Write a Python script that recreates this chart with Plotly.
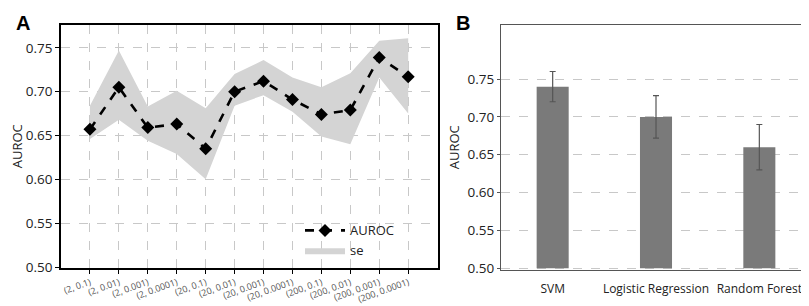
import plotly.graph_objects as go

# Panel A data
params = ["(2, 0.1)", "(2, 0.01)", "(2, 0.001)", "(2, 0.0001)", "(20, 0.1)", "(20, 0.01)",
          "(20, 0.001)", "(20, 0.0001)", "(200, 0.1)", "(200, 0.01)", "(200, 0.001)", "(200, 0.0001)"]
auroc = [0.657, 0.705, 0.659, 0.663, 0.635, 0.700, 0.712, 0.691, 0.674, 0.679, 0.739, 0.717]
se_upper = [0.684, 0.747, 0.683, 0.701, 0.681, 0.720, 0.736, 0.716, 0.705, 0.721, 0.758, 0.761]
se_lower = [0.646, 0.668, 0.644, 0.629, 0.600, 0.684, 0.696, 0.677, 0.649, 0.640, 0.716, 0.675]

# Panel B data
models = ["SVM", "Logistic Regression", "Random Forest"]
model_auroc = [0.740, 0.700, 0.660]
model_err = [0.020, 0.028, 0.030]
bar_base = 0.5

y_ticks = [0.50, 0.55, 0.60, 0.65, 0.70, 0.75]
y_ticklabels = ["0.50", "0.55", "0.60", "0.65", "0.70", "0.75"]

FONT = "Open Sans"
W, H = 809, 306

fig = go.Figure()

idx = list(range(len(params)))
# se band
fig.add_trace(go.Scatter(
    x=idx + idx[::-1], y=se_upper + se_lower[::-1],
    fill="toself", fillcolor="#d4d4d4", line=dict(color="rgba(0,0,0,0)", width=0),
    name="se", xaxis="x", yaxis="y", hoverinfo="skip"))
# AUROC line
fig.add_trace(go.Scatter(
    x=idx, y=auroc, mode="lines+markers", name="AUROC",
    line=dict(color="black", width=2.6, dash="dash"),
    marker=dict(symbol="diamond", size=10, color="black"),
    xaxis="x", yaxis="y"))

# Panel B bars
fig.add_trace(go.Bar(
    x=models, y=[v - bar_base for v in model_auroc], base=bar_base,
    width=0.31, marker=dict(color="#7a7a7a", line=dict(width=0)),
    error_y=dict(type="data", array=model_err, color="#555555", thickness=1.2, width=3),
    showlegend=False, xaxis="x2", yaxis="y2"))

grid = dict(showgrid=True, gridcolor="#c8c8c8", griddash="dash", gridwidth=1)

fig.update_layout(
    width=W, height=H,
    margin=dict(l=0, r=0, t=0, b=0),
    paper_bgcolor="white", plot_bgcolor="white",
    font=dict(family=FONT, color="#222222", size=12),
    showlegend=True,
    legend=dict(x=292 / W, y=1 - 213 / H, xanchor="left", yanchor="top",
                bgcolor="rgba(0,0,0,0)", font=dict(size=13, family=FONT, color="#222"),
                itemwidth=40, traceorder="reversed", tracegroupgap=0),
    xaxis=dict(domain=[53 / W, 430 / W], range=[-1, 12.03], tickmode="array",
               tickvals=idx, ticktext=params, tickangle=-20,
               tickfont=dict(size=9, color="#555555", family=FONT),
               showline=True, linecolor="black", linewidth=1.5, mirror=True,
               ticks="outside", ticklen=4, tickcolor="black", zeroline=False, **grid),
    yaxis=dict(domain=[1 - 267 / H, 1 - 17 / H], range=[0.4989, 0.7765], tickmode="array",
               tickvals=y_ticks, ticktext=y_ticklabels, tickfont=dict(size=13.5, color="#222"),
               showline=True, linecolor="black", linewidth=1.5, mirror=True,
               ticks="outside", ticklen=4, tickcolor="black", zeroline=False,
               title=dict(text="AUROC", font=dict(size=13), standoff=4), **grid),
    xaxis2=dict(domain=[493 / W, 803 / W], range=[-0.5, 2.5], anchor="y2", tickangle=0,
                tickfont=dict(size=12, color="#222"), showline=True, linecolor="#555555",
                linewidth=1.2, mirror=True, ticks="", showgrid=False, zeroline=False,
                ticklabelstandoff=8, ticklabeloverflow="allow"),
    yaxis2=dict(domain=[1 - 269 / H, 1 - 17 / H], range=[0.4978, 0.822], anchor="x2",
                tickmode="array", tickvals=y_ticks, ticktext=y_ticklabels,
                tickfont=dict(size=13.5, color="#222"), showline=True, linecolor="#555555",
                linewidth=1.2, mirror=True, ticks="outside", ticklen=3, tickcolor="#555555",
                zeroline=False, title=dict(text="AUROC", font=dict(size=13), standoff=4), **grid),
    annotations=[
        dict(text="<b>A</b>", x=6 / W, y=1 - 2 / H, xref="paper", yref="paper",
             xanchor="left", yanchor="top", showarrow=False,
             font=dict(size=20, family="Liberation Sans", color="black")),
        dict(text="<b>B</b>", x=446 / W, y=1 - 2 / H, xref="paper", yref="paper",
             xanchor="left", yanchor="top", showarrow=False,
             font=dict(size=20, family="Liberation Sans", color="black")),
    ],
)

fig.write_html("out.html")
